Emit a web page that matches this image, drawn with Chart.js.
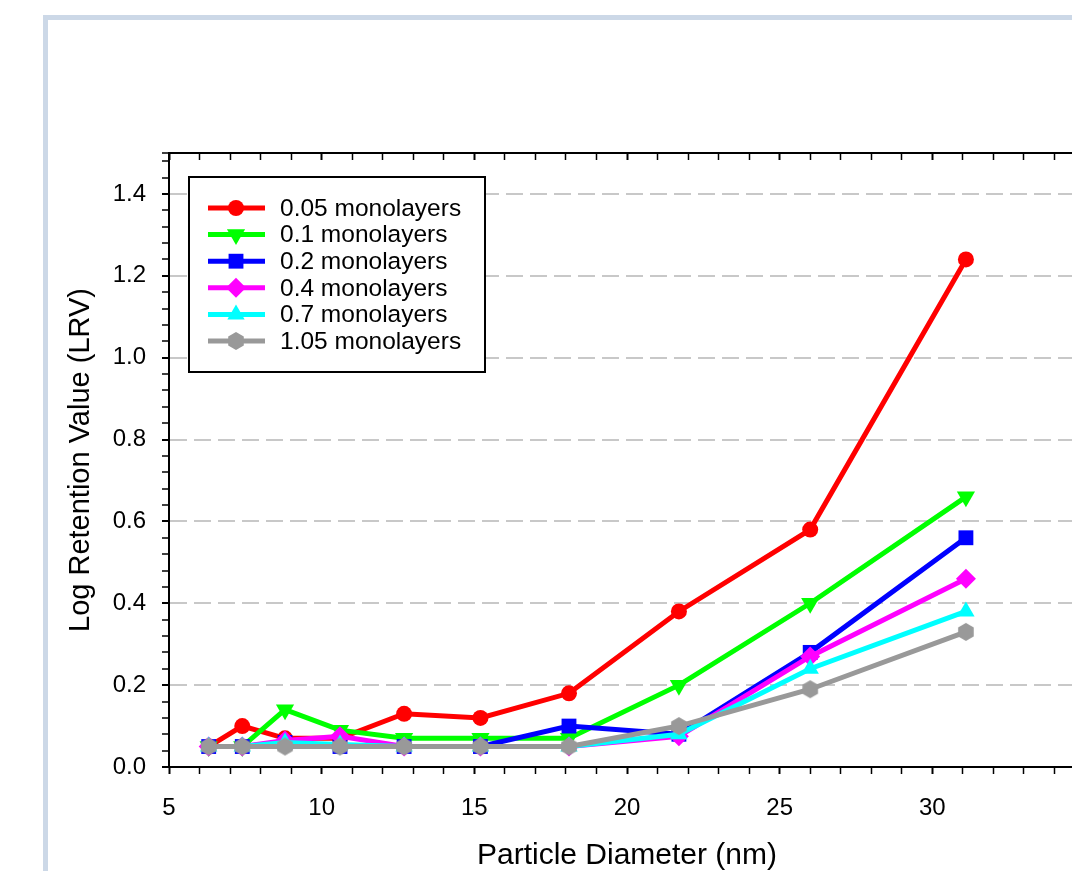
<!DOCTYPE html>
<html>
<head>
<meta charset="utf-8">
<script src="https://cdn.jsdelivr.net/npm/chart.js@4/dist/chart.umd.min.js"></script>
<style>
  html, body { margin: 0; padding: 0; background: #fff; }
  #wrap { position: relative; width: 1072px; height: 871px; overflow: hidden; }
  #frame {
    position: absolute; left: 43px; top: 15px; width: 1100px; height: 900px;
    border-left: 5px solid #ccd8e7; border-top: 5px solid #ccd8e7;
  }
  #plot { position: absolute; left: 0; top: 0; }
</style>
</head>
<body>
<div id="wrap">
  <div id="frame"></div>
  <canvas id="plot" width="1160" height="871"></canvas>
</div>
<script>
// particle diameter, nm
const diameters = [6.3, 7.4, 8.8, 10.6, 12.7, 15.2, 18.1, 21.7, 26.0, 31.1];

// LRV per coverage
const lrv005 = [0.05, 0.10, 0.07, 0.07, 0.13, 0.12, 0.18, 0.38, 0.58, 1.24];
const lrv01  = [0.05, 0.05, 0.14, 0.09, 0.07, 0.07, 0.07, 0.20, 0.40, 0.66];
const lrv02  = [0.05, 0.05, 0.06, 0.05, 0.05, 0.05, 0.10, 0.08, 0.28, 0.56];
const lrv04  = [0.05, 0.05, 0.065, 0.075, 0.05, 0.05, 0.05, 0.075, 0.27, 0.46];
const lrv07  = [0.05, 0.05, 0.06, 0.055, 0.05, 0.05, 0.05, 0.08, 0.24, 0.38];
const lrv105 = [0.05, 0.05, 0.05, 0.05, 0.05, 0.05, 0.05, 0.10, 0.19, 0.33];

const seriesLabels = ['0.05 monolayers', '0.1 monolayers', '0.2 monolayers',
                      '0.4 monolayers', '0.7 monolayers', '1.05 monolayers'];

const xTickLabels = ['5', '10', '15', '20', '25', '30', '35'];
const yTickLabels = ['0.0', '0.2', '0.4', '0.6', '0.8', '1.0', '1.2', '1.4'];

const FONT = '"Liberation Sans", Arial, sans-serif';
Chart.defaults.font.family = FONT;
Chart.defaults.color = '#000';

// hexagon marker (pointy top) for the last series
function hexMarker(r, color) {
  const c = document.createElement('canvas');
  c.width = c.height = Math.ceil(r * 2 + 2);
  const g = c.getContext('2d');
  const m = c.width / 2;
  g.fillStyle = color;
  g.beginPath();
  for (let k = 0; k < 6; k++) {
    const a = Math.PI / 3 * k;
    const px = m + Math.sin(a) * r, py = m - Math.cos(a) * r;
    if (k === 0) g.moveTo(px, py); else g.lineTo(px, py);
  }
  g.closePath();
  g.fill();
  return c;
}

function pts(ys) {
  return ys.map((y, i) => ({x: diameters[i], y: y}));
}

const styles = [
  {color: '#ff0000', pointStyle: 'circle', radius: 8, rotation: 0},
  {color: '#00ff00', pointStyle: 'triangle', radius: 10.5, rotation: 180},
  {color: '#0000ff', pointStyle: 'rect', radius: 10.5, rotation: 0},
  {color: '#ff00ff', pointStyle: 'rectRot', radius: 10, rotation: 0},
  {color: '#00ffff', pointStyle: 'triangle', radius: 10, rotation: 0},
  {color: '#999999', pointStyle: hexMarker(9, '#999999'), radius: 9, rotation: 0},
];
const series = [lrv005, lrv01, lrv02, lrv04, lrv07, lrv105];

const datasets = series.map((ys, i) => ({
  label: seriesLabels[i],
  data: pts(ys),
  borderColor: styles[i].color,
  backgroundColor: styles[i].color,
  pointBackgroundColor: styles[i].color,
  pointBorderColor: styles[i].color,
  pointBorderWidth: 0,
  pointStyle: styles[i].pointStyle,
  pointRadius: styles[i].radius,
  pointHoverRadius: styles[i].radius,
  pointRotation: styles[i].rotation,
  borderWidth: 5,
  tension: 0,
  order: series.length - i, // later series drawn on top
}));

function stepTicks(min, max, step) {
  const out = [];
  for (let v = min; v < max - 1e-9; v += step) out.push({value: +v.toFixed(4)});
  out.push({value: max});
  return out;
}
function isMajor(labels, v) {
  return labels.some(l => Math.abs(parseFloat(l) - v) < 1e-6);
}
function labelFor(labels, v) {
  const l = labels.find(l => Math.abs(parseFloat(l) - v) < 1e-6);
  return l === undefined ? '' : l;
}

// white legend box in the upper left of the plot
const legendBox = {
  id: 'legendBox',
  afterDraw(chart) {
    const {ctx, chartArea} = chart;
    const x0 = chartArea.left + 20, y0 = chartArea.top + 24;
    const w = 296, h = 195;
    ctx.save();
    ctx.fillStyle = '#fff';
    ctx.fillRect(x0, y0, w, h);
    ctx.lineWidth = 2;
    ctx.strokeStyle = '#000';
    ctx.strokeRect(x0, y0, w, h);
    chart.data.datasets.forEach((ds, i) => {
      const y = y0 + 31 + i * 26.6;
      ctx.strokeStyle = ds.borderColor;
      ctx.lineWidth = 5;
      ctx.beginPath();
      ctx.moveTo(x0 + 19, y);
      ctx.lineTo(x0 + 76, y);
      ctx.stroke();
      ctx.fillStyle = ds.pointBackgroundColor;
      Chart.helpers.drawPoint(ctx, {
        pointStyle: ds.pointStyle, rotation: ds.pointRotation,
        radius: ds.pointRadius, borderWidth: 0
      }, x0 + 47, y);
      ctx.fillStyle = '#000';
      ctx.font = '24.5px ' + FONT;
      ctx.textBaseline = 'middle';
      ctx.textAlign = 'left';
      ctx.fillText(ds.label, x0 + 91, y + 1);
    });
    ctx.restore();
  }
};

const ctx = document.getElementById('plot').getContext('2d');
const chart = new Chart(ctx, {
  type: 'line',
  data: {datasets: datasets},
  plugins: [legendBox],
  options: {
    responsive: false,
    animation: false,
    devicePixelRatio: 1,
    layout: {padding: {left: 0, top: 153, right: 75, bottom: 0}},
    plugins: {legend: {display: false}, tooltip: {enabled: false}},
    scales: {
      x: {
        type: 'linear',
        position: 'bottom',
        min: 5, max: 35,
        afterBuildTicks: (s) => { s.ticks = stepTicks(5, 35, 1); },
        afterFit: (s) => { s.height = 104; },
        ticks: {
          autoSkip: false, maxRotation: 0, padding: 20,
          font: {size: 24},
          callback: (v) => labelFor(xTickLabels, v),
        },
        grid: {
          drawOnChartArea: false, tickLength: 7,
          tickColor: '#000',
          tickWidth: (c) => isMajor(xTickLabels, c.tick.value) ? 2 : 1.5,
        },
        border: {display: true, color: '#000', width: 2},
        title: {
          display: true, text: 'Particle Diameter (nm)',
          font: {size: 30, lineHeight: 1}, padding: {top: 0, bottom: 0},
        },
      },
      x2: {
        type: 'linear',
        position: 'top',
        min: 5, max: 35,
        afterBuildTicks: (s) => { s.ticks = stepTicks(5, 35, 1); },
        afterFit: (s) => { s.height = 0; },
        ticks: {display: false},
        grid: {
          drawOnChartArea: false, tickLength: -7,
          tickColor: '#000',
          tickWidth: (c) => isMajor(xTickLabels, c.tick.value) ? 2 : 1.5,
        },
        border: {display: true, color: '#000', width: 2},
      },
      y: {
        type: 'linear',
        position: 'left',
        min: 0, max: 1.5,
        afterBuildTicks: (s) => { s.ticks = stepTicks(0, 1.5, 0.04); },
        afterFit: (s) => { s.width = 169; },
        ticks: {
          autoSkip: false, padding: 16,
          font: {size: 24},
          callback: (v) => labelFor(yTickLabels, v),
        },
        grid: {
          drawOnChartArea: true, tickLength: 7,
          color: (c) => (isMajor(yTickLabels, c.tick.value) && c.tick.value > 0) ? '#c8c8c8' : 'rgba(0,0,0,0)',
          lineWidth: 2,
          tickColor: '#000',
          tickWidth: (c) => isMajor(yTickLabels, c.tick.value) ? 2 : 1.5,
        },
        border: {display: true, color: '#000', width: 2, dash: [17, 7]},
        title: {
          display: true, text: 'Log Retention Value (LRV)',
          font: {size: 29, lineHeight: 1}, padding: {top: 66, bottom: 0},
        },
      },
    },
  },
});
</script>
</body>
</html>
